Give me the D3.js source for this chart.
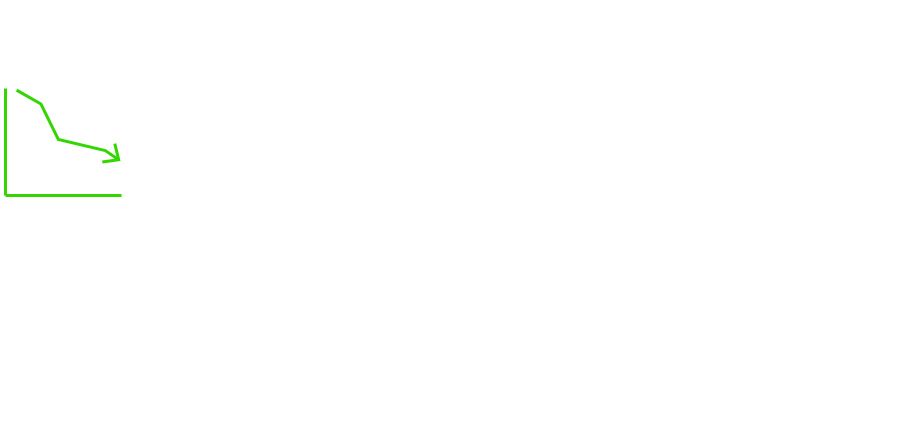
<!DOCTYPE html>
<html>
<head>
<meta charset="utf-8">
<script src="https://cdn.jsdelivr.net/npm/d3@7"></script>
<style>
  body { margin: 0; background: #fff; }
</style>
</head>
<body>
<svg id="chart" width="900" height="445"></svg>
<script>
// trend values (x position, value)
var xs = [10, 31, 46, 86.5, 98];
var ys = [98, 85, 52, 41.5, 33];

var color = '#33d600';

var svg = d3.select('#chart');

var x = d3.scaleLinear().domain([0, 100]).range([5, 121]);
var y = d3.scaleLinear().domain([0, 100]).range([195, 88]);

// axes drawn as plain L shape
var xAxis = d3.axisBottom(x).tickValues([]).tickSizeOuter(0);
var yAxis = d3.axisLeft(y).tickValues([]).tickSizeOuter(0);

svg.append('g')
    .attr('transform', 'translate(0,' + y(0) + ')')
    .call(xAxis)
  .select('.domain')
    .attr('stroke', color)
    .attr('stroke-width', 3);

svg.append('g')
    .attr('transform', 'translate(' + x(0) + ',0)')
    .call(yAxis)
  .select('.domain')
    .attr('stroke', color)
    .attr('stroke-width', 3);

var pts = xs.map(function(d, i) { return [x(d), y(ys[i])]; });

var line = d3.line();

svg.append('path')
    .attr('d', line(pts))
    .attr('fill', 'none')
    .attr('stroke', color)
    .attr('stroke-width', 3)
    .attr('stroke-linejoin', 'miter');

// arrow head at the end of the last segment
var a = pts[pts.length - 2], b = pts[pts.length - 1];
var ang = Math.atan2(b[1] - a[1], b[0] - a[0]) + Math.PI;
var len = 16.5, spread = 42 * Math.PI / 180;
var head = [
    [b[0] + len * Math.cos(ang - spread), b[1] + len * Math.sin(ang - spread)],
    b,
    [b[0] + len * Math.cos(ang + spread), b[1] + len * Math.sin(ang + spread)]
];
svg.append('path')
    .attr('d', line(head))
    .attr('fill', 'none')
    .attr('stroke', color)
    .attr('stroke-width', 3)
    .attr('stroke-linejoin', 'miter');
</script>
</body>
</html>
